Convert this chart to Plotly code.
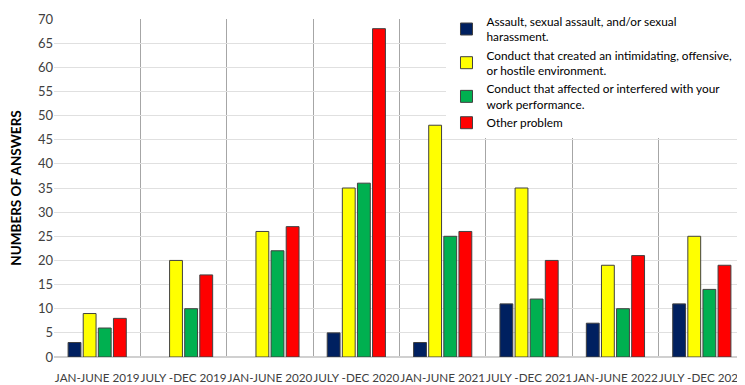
import plotly.graph_objects as go

# ----------------------------------------------------------------------
#  Data
# ----------------------------------------------------------------------

periods = ["JAN-JUNE 2019", "JULY -DEC 2019", "JAN-JUNE 2020", "JULY -DEC 2020",
           "JAN-JUNE 2021", "JULY -DEC 2021", "JAN-JUNE 2022", "JULY -DEC 2022"]

assault = [3, 0, 0, 5, 3, 11, 7, 11]
hostile = [9, 20, 26, 35, 48, 35, 19, 25]
performance = [6, 10, 22, 36, 25, 12, 10, 14]
other = [8, 17, 27, 68, 26, 20, 21, 19]

series_names = [
    "Assault, sexual assault, and/or sexual<br>harassment.",
    "Conduct that created an intimidating, offensive,<br>or hostile environment.",
    "Conduct that affected or interfered with your<br>work performance.",
    "Other problem",
]
series_colors = ["#002060", "#FFFF00", "#00B050", "#FF0000"]

# ----------------------------------------------------------------------
#  Figure
# ----------------------------------------------------------------------

fig = go.Figure()

for name, values, color in zip(series_names, [assault, hostile, performance, other], series_colors):
    # no outline on empty bars, so zero values leave no stub
    outline = [0 if v == 0 else 1 for v in values]
    fig.add_trace(go.Bar(
        x=periods,
        y=values,
        name=name,
        marker=dict(color=color, line=dict(color="#404040", width=outline)),
    ))

# page body has an 8px margin, so the figure is sized and offset to match
fig.update_layout(
    width=737, height=377,
    margin=dict(l=46, r=0, t=11, b=28, autoexpand=False),
    paper_bgcolor="white",
    plot_bgcolor="white",
    barmode="group",
    bargap=0.3,
    bargroupgap=0.15,
    font=dict(family="Lato, sans-serif", size=12, color="#404040"),
    legend=dict(
        x=0.568, y=1.035, xanchor="left", yanchor="top",
        bgcolor="white",
        font=dict(size=11.8, color="#000000"),
        tracegroupgap=0,
        itemwidth=30,
    ),
)

fig.update_xaxes(
    type="category",
    tickson="boundaries",
    showgrid=True,
    gridcolor="#a6a6a6",
    gridwidth=1,
    ticks="",
    tickangle=0,
    automargin=False,
    ticklabelstandoff=12,
    tickfont=dict(size=11.7, color="#404040"),
    showline=False,
)

fig.update_yaxes(
    range=[0, 70],
    dtick=5,
    showgrid=True,
    gridcolor="#e0e0e0",
    zeroline=True,
    zerolinecolor="#d0d0d0",
    showline=False,
    automargin=False,
    tickfont=dict(size=13, color="#404040"),
    title=dict(text="<b>NUMBERS OF ANSWERS</b>", font=dict(size=13.5, color="#000000"), standoff=14),
)

fig.write_html("out.html")
